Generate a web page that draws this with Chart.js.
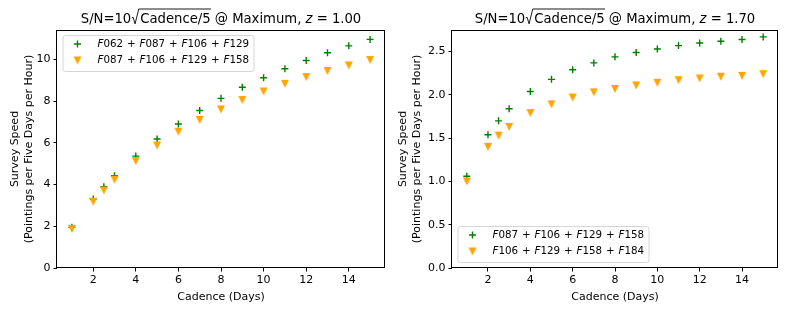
<!DOCTYPE html>
<html><head><meta charset="utf-8">
<script src="https://cdn.jsdelivr.net/npm/chart.js@4.4.1/dist/chart.umd.min.js"></script>
<style>
html,body{margin:0;padding:0;background:#fff;}
#wrap{position:relative;width:789px;height:310px;overflow:hidden;}
canvas{position:absolute;top:0;}
</style></head><body>
<div id="wrap">
<canvas id="c1" width="395" height="310" style="left:0;width:395px;height:310px"></canvas>
<canvas id="c2" width="394" height="310" style="left:395px;width:394px;height:310px"></canvas>
</div>
<script>
// ---- data ----
const cadence = [1, 2, 2.5, 3, 4, 5, 6, 7, 8, 9, 10, 11, 12, 13, 14, 15];

// z = 1.00 panel
const z100Green  = [1.95, 3.31, 3.90, 4.43, 5.37, 6.19, 6.91, 7.56, 8.14, 8.67, 9.13, 9.56, 9.96, 10.33, 10.66, 10.97];
const z100Orange = [1.88, 3.18, 3.72, 4.24, 5.13, 5.88, 6.54, 7.10, 7.61, 8.06, 8.47, 8.84, 9.16, 9.45, 9.72, 9.98];
const z100Labels = ['F062 + F087 + F106 + F129', 'F087 + F106 + F129 + F158'];

// z = 1.70 panel
const z170Green  = [1.06, 1.54, 1.70, 1.84, 2.04, 2.18, 2.29, 2.37, 2.44, 2.49, 2.53, 2.57, 2.60, 2.62, 2.64, 2.67];
const z170Orange = [1.00, 1.40, 1.53, 1.63, 1.79, 1.89, 1.97, 2.03, 2.07, 2.11, 2.14, 2.17, 2.19, 2.21, 2.22, 2.24];
const z170Labels = ['F087 + F106 + F129 + F158', 'F106 + F129 + F158 + F184'];

const zValues = ['1.00', '1.70'];
const xTicks = [2, 4, 6, 8, 10, 12, 14];
const yTicksLeft = [0, 2, 4, 6, 8, 10];
const yTicksRight = [0, 0.5, 1.0, 1.5, 2.0, 2.5];
const xTitle = 'Cadence (Days)';
const yTitle = ['Survey Speed', '(Pointings per Five Days per Hour)'];

// ---- styles ----
const GREEN = '#008000';
const ORANGE = '#FFA500';
const FAMILY = '"DejaVu Sans"';
Chart.defaults.font.family = FAMILY;
Chart.defaults.color = '#000';

function makeTriangle() {
  const c = document.createElement('canvas');
  c.width = 10; c.height = 10;
  const g = c.getContext('2d');
  g.fillStyle = ORANGE;
  g.beginPath();
  g.moveTo(1, 1); g.lineTo(9, 1); g.lineTo(5, 9); g.closePath();
  g.fill();
  return c;
}
const TRI = makeTriangle();

function drawPlus(ctx, x, y) {
  ctx.save();
  ctx.strokeStyle = GREEN; ctx.lineWidth = 1.4;
  ctx.beginPath();
  ctx.moveTo(x - 3.5, y); ctx.lineTo(x + 3.5, y);
  ctx.moveTo(x, y - 3.5); ctx.lineTo(x, y + 3.5);
  ctx.stroke();
  ctx.restore();
}

function drawMathLabel(ctx, x, y, str, fs) {
  const N = `${fs}px ${FAMILY}`, I = `italic ${fs}px ${FAMILY}`;
  const toks = str.split(' + ');
  ctx.textBaseline = 'middle';
  ctx.textAlign = 'left';
  ctx.fillStyle = '#000';
  let cx = x;
  toks.forEach((tk, i) => {
    if (i > 0) {
      ctx.font = N;
      cx += fs * 0.38;
      ctx.fillText('+', cx, y);
      cx += ctx.measureText('+').width + fs * 0.38;
    }
    ctx.font = I;
    ctx.fillText(tk[0], cx, y);
    cx += ctx.measureText(tk[0]).width;
    ctx.font = N;
    ctx.fillText(tk.slice(1), cx, y);
    cx += ctx.measureText(tk.slice(1)).width;
  });
}

const framePlugin = {
  id: 'frame',
  afterDraw(chart) {
    const {ctx, chartArea: a} = chart;
    ctx.save();
    ctx.strokeStyle = '#000'; ctx.lineWidth = 1;
    const l = Math.round(a.left) - 0.5, t = Math.round(a.top) + 0.5;
    const r = Math.round(a.right) - 0.5, b = Math.round(a.bottom) - 0.5;
    ctx.strokeRect(l, t, r - l, b - t);
    ctx.restore();
  }
};

const titlePlugin = {
  id: 'mathTitle',
  afterDraw(chart, args, opts) {
    const {ctx, chartArea: a} = chart;
    const fs = 13.2;
    const N = `${fs}px ${FAMILY}`, I = `italic ${fs}px ${FAMILY}`;
    const parts = [
      {t: 'S/N=10', f: N},
      {rad: true, w: 9},
      {t: 'Cadence/5', f: N, over: true},
      {t: ' @ Maximum, ', f: N},
      {t: 'z', f: I},
      {t: ' = ', f: N},
      {t: opts.z, f: N}
    ];
    ctx.save();
    let total = 0;
    parts.forEach(p => {
      if (p.rad) { p.width = p.w; }
      else { ctx.font = p.f; p.width = ctx.measureText(p.t).width; }
      total += p.width;
    });
    const by = 23;
    let x = (a.left + a.right) / 2 - total / 2;
    ctx.fillStyle = '#000'; ctx.strokeStyle = '#000';
    ctx.textBaseline = 'alphabetic'; ctx.textAlign = 'left';
    let radX = 0;
    parts.forEach(p => {
      if (p.rad) {
        radX = x;
      } else {
        ctx.font = p.f;
        ctx.fillText(p.t, x, by);
        if (p.over) {
          ctx.lineWidth = 0.9;
          ctx.beginPath();
          ctx.moveTo(radX + 0.5, by - 5);
          ctx.lineTo(radX + 1.8, by - 5.8);
          ctx.lineTo(radX + 3.8, by + 0.8);
          ctx.lineTo(radX + 7.5, by - 14);
          ctx.lineTo(x + p.width + 0.5, by - 14);
          ctx.stroke();
        }
      }
      x += p.width;
    });
    ctx.restore();
  }
};

const legendPlugin = {
  id: 'mathLegend',
  afterDraw(chart, args, opts) {
    const {ctx, chartArea: a} = chart;
    const w = 191, h = 36;
    const bx = a.left + 5.5;
    const by = opts.loc === 'upper' ? a.top + 5 : a.bottom - 6 - h;
    ctx.save();
    ctx.fillStyle = 'rgba(255,255,255,0.8)';
    ctx.strokeStyle = '#d6d6d6'; ctx.lineWidth = 1;
    ctx.beginPath();
    ctx.roundRect(bx + 0.5, by + 0.5, w, h, 2.5);
    ctx.fill(); ctx.stroke();
    const rows = [by + 9, by + 25.5];
    drawPlus(ctx, bx + 15, rows[0]);
    ctx.drawImage(TRI, bx + 15 - 5, rows[1] - 5);
    drawMathLabel(ctx, bx + 35, rows[0], opts.labels[0], 10.3);
    drawMathLabel(ctx, bx + 35, rows[1], opts.labels[1], 10.3);
    ctx.restore();
  }
};

function makeChart(id, cfg) {
  const tickFont = {family: FAMILY, size: 11};
  return new Chart(document.getElementById(id), {
    type: 'scatter',
    data: {
      datasets: [
        {label: cfg.labels[1], data: cadence.map((x, i) => ({x, y: cfg.orange[i]})),
         pointStyle: TRI, pointRadius: 5, order: 0},
        {label: cfg.labels[0], data: cadence.map((x, i) => ({x, y: cfg.green[i]})),
         pointStyle: 'cross', pointRadius: 3.5, borderColor: GREEN, backgroundColor: GREEN,
         borderWidth: 1.4, order: 1}
      ]
    },
    options: {
      responsive: false, animation: false, devicePixelRatio: 1,
      layout: {padding: {left: 0, right: cfg.padRight, top: 30, bottom: 0}},
      plugins: {
        legend: {display: false}, tooltip: {enabled: false},
        mathTitle: {z: cfg.z},
        mathLegend: {labels: cfg.labels, loc: cfg.loc}
      },
      scales: {
        x: {
          type: 'linear', min: 0.3, max: 15.7,
          afterBuildTicks: s => { s.ticks = xTicks.map(v => ({value: v})); },
          afterFit: s => { s.height = 42; },
          ticks: {font: tickFont, color: '#000', padding: 2.5, maxRotation: 0, autoSkip: false},
          grid: {display: true, drawOnChartArea: false, drawTicks: true, tickLength: 3.5, tickColor: '#000', tickWidth: 1},
          border: {display: false},
          title: {display: true, text: xTitle, font: {family: FAMILY, size: 11, lineHeight: 1.2}, color: '#000', padding: {top: 0, bottom: 6.5}}
        },
        y: {
          type: 'linear', min: 0, max: cfg.ymax,
          afterBuildTicks: s => { s.ticks = cfg.yTicks.map(v => ({value: v})); },
          afterFit: s => { s.width = 57; },
          ticks: {font: tickFont, color: '#000', padding: 3, autoSkip: false,
                  callback: v => cfg.fmt(v)},
          grid: {display: true, drawOnChartArea: false, drawTicks: true, tickLength: 3.5, tickColor: '#000', tickWidth: 1},
          border: {display: false},
          title: {display: true, text: yTitle, font: {family: FAMILY, size: 11, lineHeight: 1.25}, color: '#000',
                  padding: {top: cfg.yTitlePad, bottom: 0}}
        }
      }
    },
    plugins: [framePlugin, titlePlugin, legendPlugin]
  });
}

makeChart('c1', {green: z100Green, orange: z100Orange, labels: z100Labels, z: zValues[0],
  ymax: 11.42, yTicks: yTicksLeft, fmt: v => String(v), padRight: 10, yTitlePad: 8.1, loc: 'upper'});
makeChart('c2', {green: z170Green, orange: z170Orange, labels: z170Labels, z: zValues[1],
  ymax: 2.75, yTicks: yTicksRight, fmt: v => v.toFixed(1), padRight: 11, yTitlePad: 1.6, loc: 'lower'});
</script>
</body></html>
